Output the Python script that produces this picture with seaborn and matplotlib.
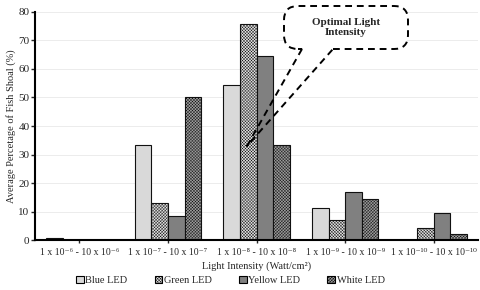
import matplotlib
matplotlib.use('Agg')
import matplotlib.pyplot as plt
import seaborn as sns
import pandas as pd
from matplotlib.patches import Patch, FancyBboxPatch

ranges = ['1 x 10⁻⁶ - 10 x 10⁻⁶',
          '1 x 10⁻⁷ - 10 x 10⁻⁷',
          '1 x 10⁻⁸ - 10 x 10⁻⁸',
          '1 x 10⁻⁹ - 10 x 10⁻⁹',
          '1 x 10⁻¹⁰ - 10 x 10⁻¹⁰']
leds = ['Blue LED', 'Green LED', 'Yellow LED', 'White LED']
blue = [0.8, 33.3, 54.5, 11.1, 0]
green = [0, 13.1, 75.8, 7.2, 4.1]
yellow = [0, 8.4, 64.7, 17.0, 9.6]
white = [0, 50.0, 33.2, 14.4, 2.2]

df = pd.DataFrame({
    'range': ranges * 4,
    'led': [l for l in leds for _ in ranges],
    'value': blue + green + yellow + white,
})

sns.set_style('white')
plt.rcParams['font.family'] = ['Liberation Serif', 'DejaVu Serif']
plt.rcParams['hatch.linewidth'] = 0.3

faces = ['#d9d9d9', '#e4e4e4', '#808080', '#a0a0a0']
hatches = [None, 'xxxxxxxxxxx', None, 'xxxxxxxxxxx']

fig = plt.figure(figsize=(4.8, 2.9), dpi=100)
ax = fig.add_axes([0.073, 0.172, 0.923, 0.787])

sns.barplot(data=df, x='range', y='value', hue='led', hue_order=leds,
            order=ranges, ax=ax, width=0.75, legend=False)

for cont, fc, h in zip(ax.containers, faces, hatches):
    for p in cont:
        p.set_facecolor(fc)
        p.set_edgecolor('#111111')
        p.set_linewidth(0.8)
        if h:
            p.set_hatch(h)

ax.set_ylim(0, 80)
ax.set_yticks(range(0, 81, 10))
ax.yaxis.grid(True, color='#ececec', linewidth=0.7)
ax.set_axisbelow(True)
for s in ['top', 'right']:
    ax.spines[s].set_visible(False)
for s in ['left', 'bottom']:
    ax.spines[s].set_linewidth(1.5)
    ax.spines[s].set_color('black')
ax.tick_params(axis='y', labelsize=8, length=3, width=1, left=True, pad=1)
ax.tick_params(axis='x', labelsize=7, length=2.5, width=1, bottom=True, pad=3)
ax.set_xlim(-0.5, 4.5)

ax.set_ylabel('Average Percetage of Fish Shoal (%)', fontsize=7.5, labelpad=2)
ax.set_xlabel('Light Intensity (Watt/cm²)', fontsize=7.5, labelpad=3)

# callout box (positions in inches on the figure)
tr = fig.dpi_scale_trans
dash = (0, (3.5, 2.5))
box = FancyBboxPatch((2.84, 2.41), 1.24, 0.43,
                     boxstyle='round,pad=0,rounding_size=0.14',
                     transform=tr, fc='white', ec='black', lw=1.4, ls=dash,
                     clip_on=False, zorder=5)
fig.patches.append(box)
fig.lines.append(plt.Line2D([3.03, 3.30], [2.41, 2.41], transform=tr,
                            color='white', lw=2.5, zorder=6))
fig.lines.append(plt.Line2D([3.02, 2.47, 3.33], [2.41, 1.44, 2.41],
                            transform=tr, color='black', lw=1.4, ls=dash,
                            zorder=7))
fig.text(3.46, 2.625, 'Optimal Light\nIntensity', transform=tr,
         ha='center', va='center', fontsize=8, fontweight='bold',
         linespacing=1.15, zorder=8)

handles = [Patch(facecolor=fc, edgecolor='black', hatch=h, linewidth=0.8)
           for fc, h in zip(faces, hatches)]
fig.legend(handles, leds, loc='lower center', ncol=4, frameon=False,
           fontsize=7.5, bbox_to_anchor=(0.48, -0.015), handlelength=0.75,
           handleheight=0.75, handletextpad=0.15, columnspacing=2.6)

fig.savefig('out.png', dpi=100)
